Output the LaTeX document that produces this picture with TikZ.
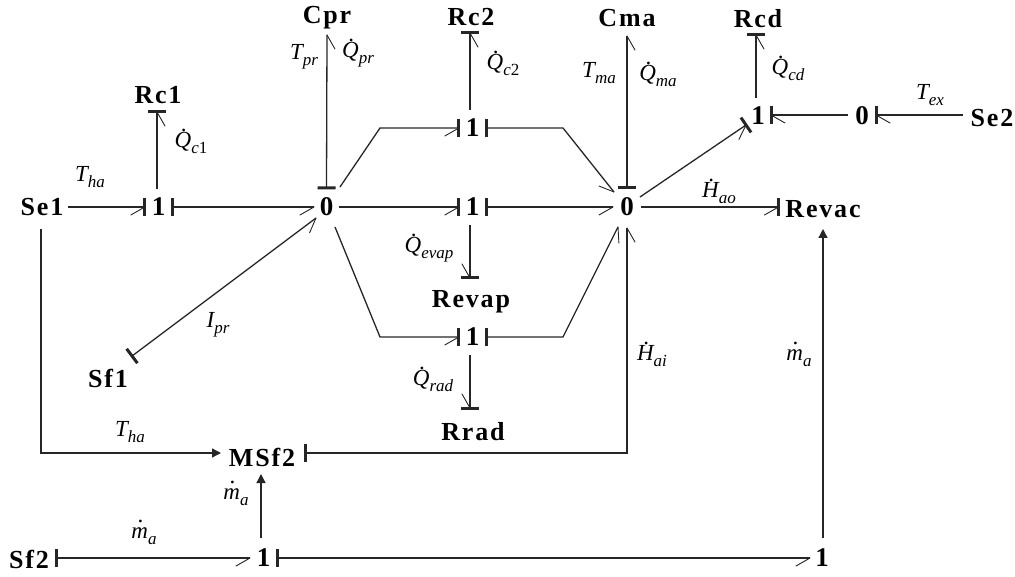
\documentclass[tikz,border=0pt]{standalone}
\usepackage{fontspec}
\setmainfont{Liberation Serif}
\newfontfamily\namefont[LetterSpace=7]{Liberation Serif Bold}
\usetikzlibrary{arrows.meta}
\newcommand{\sym}[2]{{\fontsize{23}{23}\selectfont\itshape #1\raisebox{-.26em}{\fontsize{17}{17}\selectfont #2}}}
\newcommand{\dt}[1]{\makebox[0pt][l]{\hspace{.27em}\raisebox{.7em}{\upshape.}}#1}
\makeatletter
\newcommand{\barbpath}[1]{\pgfsetdash{}{0pt}\pgfsetlinewidth{.9pt}\pgfsetroundcap
  \pgfpathmoveto{\pgfqpoint{-14pt}{#1}}\pgfpathlineto{\pgfpointorigin}\pgfusepathqstroke}
\newcommand{\barpath}{\pgfsetlinewidth{3pt}\pgfsetbuttcap
  \pgfpathmoveto{\pgfqpoint{0pt}{-9pt}}\pgfpathlineto{\pgfqpoint{0pt}{9pt}}\pgfusepathqstroke}
\pgfdeclarearrow{name=HR,
  setup code={\pgfarrowssettipend{0pt}\pgfarrowssetlineend{0pt}\pgfarrowssetvisualbackend{-14pt}\pgfarrowssetbackend{-14pt}},
  drawing code={\barbpath{-8pt}}}
\pgfdeclarearrow{name=HRB,
  setup code={\pgfarrowssettipend{0pt}\pgfarrowssetlineend{0pt}\pgfarrowssetvisualbackend{-14pt}\pgfarrowssetbackend{-14pt}},
  drawing code={\barbpath{-8pt}\barpath}}
\pgfdeclarearrow{name=HLB,
  setup code={\pgfarrowssettipend{0pt}\pgfarrowssetlineend{0pt}\pgfarrowssetvisualbackend{-14pt}\pgfarrowssetbackend{-14pt}},
  drawing code={\barbpath{8pt}\barpath}}
\pgfdeclarearrow{name=BR,
  setup code={\pgfarrowssettipend{0pt}\pgfarrowssetlineend{0pt}\pgfarrowssetvisualbackend{-1pt}\pgfarrowssetbackend{-1pt}},
  drawing code={\barpath}}
\makeatother
\tikzset{
  x=1pt,y=-1pt,
  bond/.style={line width=1.3pt,black!85},
  el/.style={inner sep=0pt,font=\namefont\fontsize{26}{26}\selectfont},
  jct/.style={inner sep=0pt,minimum width=27pt,minimum height=36pt,font=\bfseries\fontsize{27}{27}\selectfont},
  lbl/.style={inner sep=0pt},
  eb/.style={bond,-{HRB[]}},
  es/.style={bond,-{HLB[]}},
  sbd/.style={bond,{BR[]}-{HR[]}},
  sig/.style={line width=1.3pt,black!85,-{Triangle[length=9pt,width=9pt]}}
}
\begin{document}
\begin{tikzpicture}
\useasboundingbox (0,0) rectangle (1015,577);
% elements
\node[el] (se1) at (42,207) {Se1};
\node[el] (se2) at (992,118) {Se2};
\node[el] (sf1) at (108,378) {Sf1};
\node[el] (sf2) at (29,559) {Sf2};
\node[el] (cpr) at (327,18) {Cpr};
\node[el] (rc1) at (158,95) {Rc1};
\node[el] (rc2) at (471,17) {Rc2};
\node[el] (cma) at (627,18) {Cma};
\node[el] (rcd) at (758,19) {Rcd};
\node[el] (revac) at (823,209) {Revac};
\node[el] (revap) at (471,302) {Revap};
\node[el] (rrad) at (473,432) {Rrad};
\node[el] (msf2) at (262,457) {MSf2};
% junctions
\node[jct] (ja) at (158.5,207) {1};
\node[jct] (z1) at (326.5,207) {0};
\node[jct] (jt) at (472.5,128) {1};
\node[jct] (jm) at (472.5,207) {1};
\node[jct] (jl) at (472.5,337) {1};
\node[jct] (z2) at (627,207) {0};
\node[jct] (jc) at (758,116) {1};
\node[jct] (z3) at (862,116) {0};
\node[jct] (jb) at (263.5,558) {1};
\node[jct] (je) at (822,558) {1};
% bend and port points
\coordinate (tl) at (380,128);
\coordinate (tr) at (563,128);
\coordinate (ll) at (380,337);
\coordinate (lr) at (563,337);
\coordinate (sa) at (41,229);
\coordinate (sc) at (41,453);
\coordinate (mr) at (627,453);
\coordinate (mz) at (627,228);
\coordinate (ma) at (305,453);
\coordinate (sf1p) at (132,356);
\coordinate (z1sw) at (316,218);
\coordinate (z1ne) at (340,187);
\coordinate (z1se) at (335,227);
\coordinate (z2nw) at (614,192);
\coordinate (z2sw) at (618,227);
\coordinate (z2ne) at (640,197);
\coordinate (jcsw) at (746,125);
% bonds
\draw[eb] (68,207) -- (ja.west);
\draw[sbd] (ja.east) -- (314,207);
\draw[eb] ([xshift=-1.5pt]ja.north) -- (157,112);
\draw[sbd] ([yshift=1pt]z1.north) -- (327,35);
\draw[eb] (z1ne) -- (tl) -- (jt.west);
\draw[eb] ([xshift=-2.5pt]jt.north) -- (470,33);
\draw[sbd] (jt.east) -- (tr) -- (z2nw);
\draw[eb] (339,207) -- (jm.west);
\draw[sbd] (jm.east) -- (613,207);
\draw[eb] ([xshift=-2.5pt]jm.south) -- (470,278);
\draw[eb] (z1se) -- (ll) -- (jl.west);
\draw[eb] ([xshift=-2.5pt]jl.south) -- (470,408);
\draw[sbd] (jl.east) -- (lr) -- (z2sw);
\draw[sbd] ([yshift=1pt]z2.north) -- (627,36);
\draw[sbd] (ma) -- (mr) -- (mz);
\draw[eb] (641,207) -- (778.5,207);
\draw[eb] (z2ne) -- (jcsw);
\draw[eb] ([xshift=-2pt]jc.north) -- (756,35);
\draw[es] (848,115) -- (771,115);
\draw[es] (963,115) -- (876,115);
\draw[sbd] (sf1p) -- (z1sw);
\draw[sbd] (56,558) -- (250,558);
\draw[sbd] (277,558) -- (810,558);
% signals
\draw[sig] (sa) -- (sc) -- (221,453);
\draw[sig] (261,538) -- (261,474);
\draw[sig] (823,538) -- (823,229);
% labels
\node[lbl] (l1) at (90,177) {\sym{T}{ha}};
\node[lbl] (l2) at (130,432) {\sym{T}{ha}};
\node[lbl] (l3) at (191,141) {\sym{\dt{Q}}{c\upshape 1}};
\node[lbl] (l4) at (304,57) {\sym{T}{pr}};
\node[lbl] (l5) at (358,53) {\sym{\dt{Q}}{pr}};
\node[lbl] (l6) at (503,63) {\sym{\dt{Q}}{c\upshape 2}};
\node[lbl] (l7) at (599,73) {\sym{T}{ma}};
\node[lbl] (l8) at (658,74) {\sym{\dt{Q}}{ma}};
\node[lbl] (l9) at (788,68) {\sym{\dt{Q}}{cd}};
\node[lbl] (l10) at (930,95) {\sym{T}{ex}};
\node[lbl] (l11) at (719,191) {\sym{\dt{H}}{ao}};
\node[lbl] (l12) at (429,248) {\sym{\dt{Q}}{evap}};
\node[lbl] (l13) at (433,379) {\sym{\dt{Q}}{rad}};
\node[lbl] (l14) at (652,354) {\sym{\dt{H}}{ai}};
\node[lbl] (l15) at (799,354) {\sym{\dt{m}}{a}};
\node[lbl] (l16) at (236,493) {\sym{\dt{m}}{a}};
\node[lbl] (l17) at (144,532) {\sym{\dt{m}}{a}};
\node[lbl] (l18) at (218,325) {\sym{I}{pr}};
\end{tikzpicture}
\end{document}
